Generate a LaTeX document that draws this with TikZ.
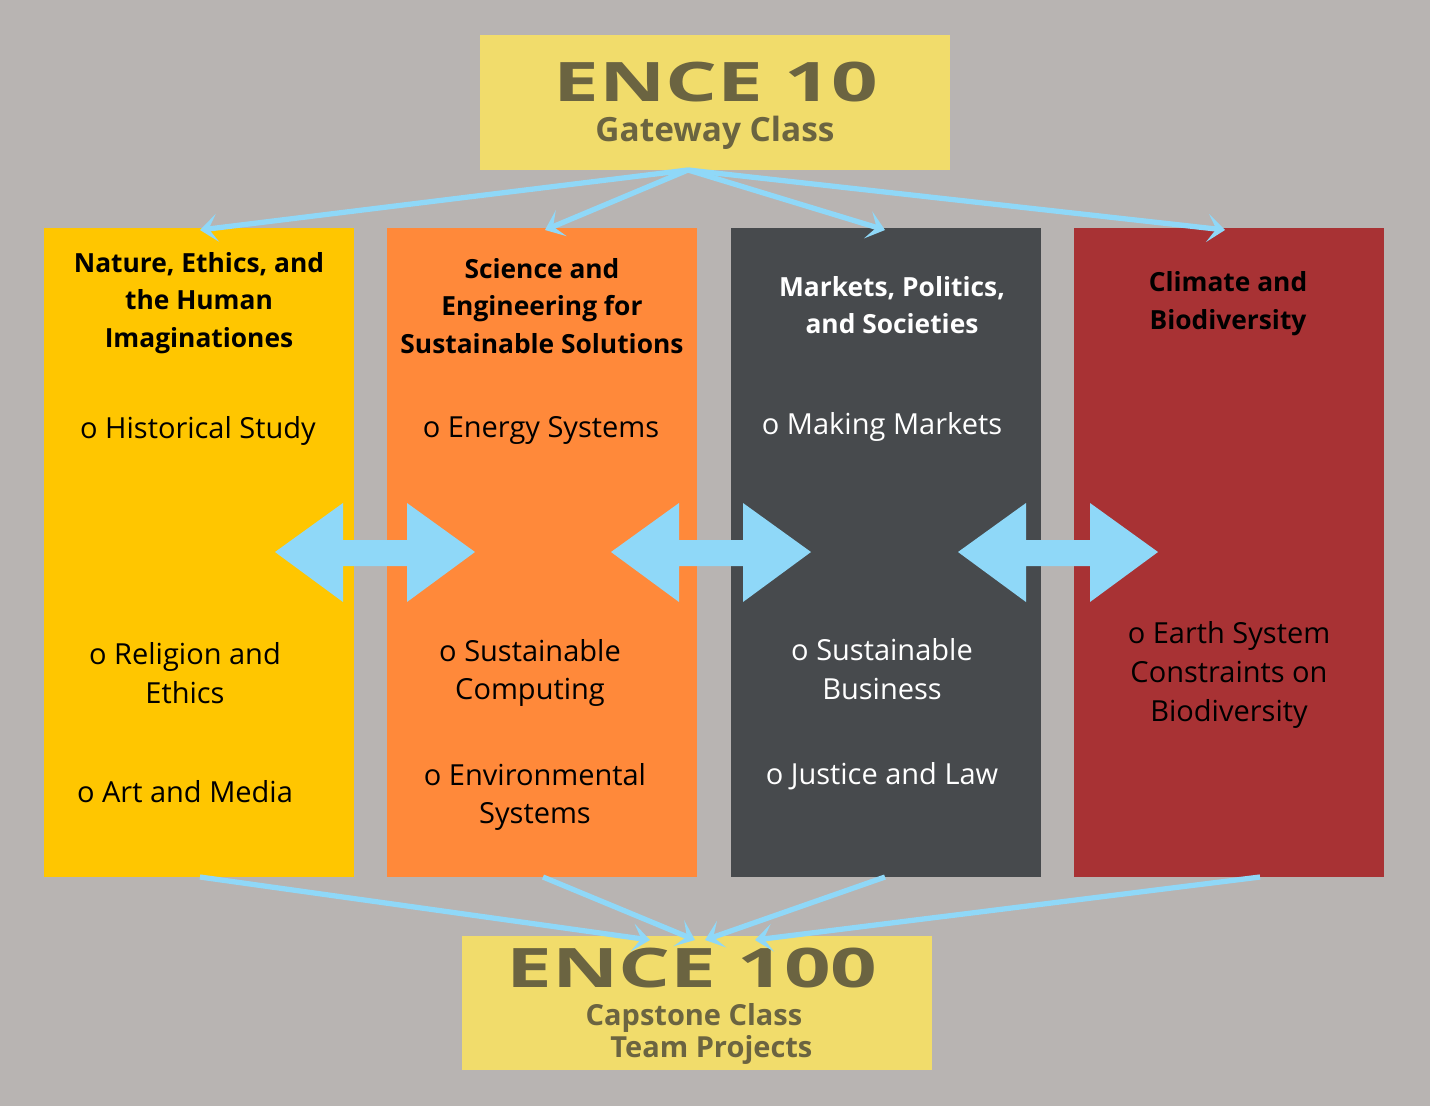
\documentclass[tikz,border=0pt]{standalone}
\usepackage{fontspec}
\setmainfont{Open Sans}
\usetikzlibrary{arrows.meta}
\definecolor{bg}{HTML}{B8B4B2}
\definecolor{boxy}{HTML}{F1DC6B}
\definecolor{olive}{HTML}{6B6441}
\definecolor{cy}{HTML}{FFC600}
\definecolor{co}{HTML}{FF893A}
\definecolor{cd}{HTML}{474A4D}
\definecolor{cr}{HTML}{A83234}
\definecolor{ab}{HTML}{8FD8F8}
\begin{document}
\begin{tikzpicture}[x=0.02cm,y=-0.02cm,
  ttl/.style={font=\fontsize{15}{21.5}\selectfont\bfseries,align=center},
  itm/.style={font=\fontsize{16.5}{22}\selectfont,align=center},
  big/.style={font=\fontsize{31}{31}\selectfont\bfseries,text=olive,inner sep=0},
  con/.style={draw=ab,line width=3pt,-{Stealth[length=10pt,width=16pt,inset=5pt]}}]
\fill[bg] (0,0) rectangle (1430,1106);
\useasboundingbox (0,0) rectangle (1430,1106);
% boxes
\fill[boxy] (480,35) rectangle (950,170);
\coordinate (topc) at (688,170);
\node[big] (t1) at (716,82) {\scalebox{1.5}[1]{ENCE 10}};
\node[font=\fontsize{19}{24}\selectfont\bfseries,text=olive] (t2) at (715,133) {Gateway Class};
\fill[boxy] (462,936) rectangle (932,1070);
\node[big] (b1) at (692,968) {\scalebox{1.5}[1]{ENCE 100}};
\node[font=\fontsize{16.5}{18}\selectfont\bfseries,text=olive,align=center] (b2) at (694,1034) {Capstone Class\\\hspace{1.2em}Team Projects};
% columns
\fill[cy] (44,228) rectangle (354,877);
\fill[co] (387,228) rectangle (697,877);
\fill[cd] (731,228) rectangle (1041,877);
\fill[cr] (1074,228) rectangle (1384,877);
\coordinate (c1t) at (200,230); \coordinate (c2t) at (545,230);
\coordinate (c3t) at (885,230); \coordinate (c4t) at (1225,230);
\coordinate (c1b) at (200,877); \coordinate (c2b) at (543,877);
\coordinate (c3b) at (885,877); \coordinate (c4b) at (1260,877);
\coordinate (bt1) at (650,940); \coordinate (bt2) at (695,940);
\coordinate (bt3) at (705,940); \coordinate (bt4) at (755,940);
% titles
\node[ttl] (h1) at (199,303) {Nature, Ethics, and\\the Human\\Imaginationes};
\node[ttl] (h2) at (542,306) {Science and\\Engineering for\\Sustainable Solutions};
\node[ttl,white] (h3) at (892,305) {Markets, Politics,\\and Societies};
\node[ttl] (h4) at (1228,304) {Climate and\\Biodiversity};
% items
\node[itm] (i11) at (198,431) {o Historical Study};
\node[itm] (i12) at (185,673) {o Religion and\\Ethics};
\node[itm] (i13) at (185,792) {o Art and Media};
\node[itm] (i21) at (541,430) {o Energy Systems};
\node[itm] (i22) at (530,673) {o Sustainable\\Computing};
\node[itm] (i23) at (535,797) {o Environmental\\Systems};
\node[itm,white] (i31) at (882,427) {o Making Markets};
\node[itm,white] (i32) at (882,669) {o Sustainable\\Business};
\node[itm,white] (i33) at (882,776) {o Justice and Law};
\node[itm] (i41) at (1229,675) {o Earth System\\Constraints on\\Biodiversity};
% double arrows
\foreach \x in {275,611,958}{
  \fill[ab] (\x,552) -- (\x+68,503) -- (\x+68,540) -- (\x+132,540) -- (\x+132,503) -- (\x+200,552)
   -- (\x+132,602) -- (\x+132,566) -- (\x+68,566) -- (\x+68,602) -- cycle;}
% connectors
\draw[con] (topc) -- (c1t);
\draw[con] (topc) -- (c2t);
\draw[con] (topc) -- (c3t);
\draw[con] (topc) -- (c4t);
\draw[con] (c1b) -- (bt1);
\draw[con] (c2b) -- (bt2);
\draw[con] (c3b) -- (bt3);
\draw[con] (c4b) -- (bt4);
\end{tikzpicture}
\end{document}
